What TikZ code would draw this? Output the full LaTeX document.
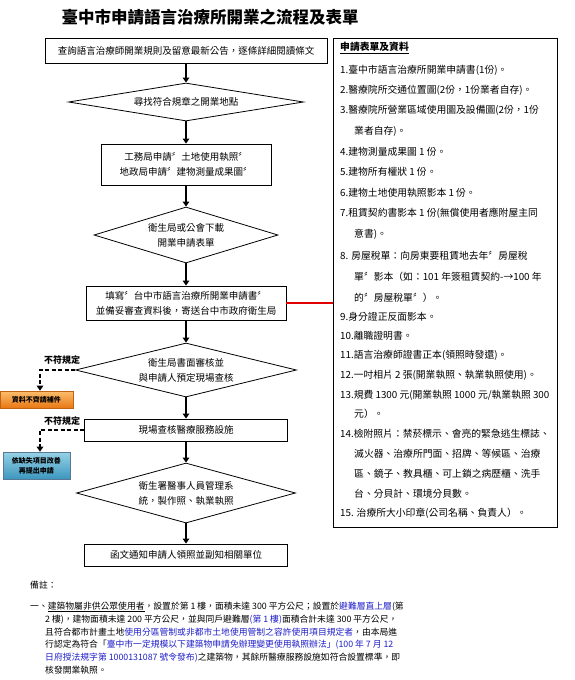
\documentclass[tikz,border=0pt]{standalone}
\usepackage{fontspec}
\setmainfont{Noto Sans CJK TC}
\usetikzlibrary{shapes.geometric,arrows.meta}
\definecolor{noteblue}{RGB}{30,30,200}
\definecolor{linkred}{RGB}{225,0,0}
\definecolor{orgtop}{RGB}{252,190,110}
\definecolor{orgbot}{RGB}{232,120,20}
\definecolor{orgedge}{RGB}{190,100,20}
\definecolor{tealtop}{RGB}{150,210,230}
\definecolor{tealbot}{RGB}{60,150,190}
\definecolor{tealedge}{RGB}{90,120,150}
\newcommand\fflow{\fontsize{9.5}{15}\selectfont}
\newcommand\flist{\fontsize{9.8}{11}\selectfont}
\newcommand\fnote{\fontsize{8.8}{11}\selectfont}
\newcommand\fsmall{\fontsize{7}{10}\selectfont\bfseries}
\begin{document}
\begin{tikzpicture}[x=1pt,y=-1pt,
  flowbox/.style={draw,line width=0.8pt,inner sep=0pt,align=center,font=\fflow},
  dia/.style={draw,diamond,line width=0.8pt,inner sep=0pt},
  diatext/.style={align=center,font=\fflow,inner sep=0pt},
  arr/.style={line width=2pt,-{Triangle[length=5pt,width=6.5pt]}},
  darr/.style={line width=1.6pt,dash pattern=on 4pt off 2.5pt,-{Triangle[length=5pt,width=6.5pt]}},
  listline/.style={anchor=west,font=\flist,inner sep=0pt},
  noteline/.style={anchor=west,font=\fnote,inner sep=0pt},
  reject/.style={font=\fontsize{9}{10}\selectfont\bfseries,inner sep=0pt},
  sidebox/.style={line width=0.6pt,inner sep=0pt,align=center,font=\fsmall},
]
\useasboundingbox (0,0) rectangle (574,680);
\node[font=\fontsize{16.5}{18}\selectfont\bfseries] (title) at (210,17) {臺中市申請語言治療所開業之流程及表單};

% flow
\node[flowbox,minimum width=282pt,minimum height=25pt] (b1) at (186,50.5) {查詢語言治療師開業規則及留意最新公告，逐條詳細閱讀條文};
\node[dia,minimum width=235pt,minimum height=38pt] (d1) at (186,102) {};
\node[diatext] (d1t) at (d1.center) {尋找符合規章之開業地點};
\node[flowbox,minimum width=170pt,minimum height=41pt] (b2) at (186,164.5) {工務局申請〞土地使用執照〞\\地政局申請〞建物測量成果圖〞};
\node[dia,minimum width=184pt,minimum height=56pt] (d2) at (186,235) {};
\node[diatext] (d2t) at (d2.center) {衛生局或公會下載\\開業申請表單};
\node[flowbox,minimum width=200pt,minimum height=34pt] (b3) at (186,303) {填寫〞台中市語言治療所開業申請書〞\\並備妥審查資料後，寄送台中市政府衛生局};
\node[dia,minimum width=221pt,minimum height=54pt] (d3) at (186,370) {};
\node[diatext] (d3t) at (d3.center) {衛生局書面審核並\\與申請人預定現場查核};
\node[flowbox,minimum width=203pt,minimum height=22pt] (b4) at (186,430) {現場查核醫療服務設施};
\node[dia,minimum width=219pt,minimum height=60pt] (d4) at (186,493) {};
\node[diatext] (d4t) at (d4.center) {衛生署醫事人員管理系\\統，製作照、執業執照};
\node[flowbox,minimum width=203pt,minimum height=22pt] (b5) at (186,555) {函文通知申請人領照並副知相關單位};

\draw[arr] (b1.south) -- (d1.north);
\draw[arr] (d1.south) -- (b2.north);
\draw[arr] (b2.south) -- (d2.north);
\draw[arr] (d2.south) -- (b3.north);
\draw[arr] (b3.south) -- (d3.north);
\draw[arr] (d3.south) -- (b4.north);
\draw[arr] (b4.south) -- (d4.north);
\draw[arr] (d4.south) -- (b5.north);

% side branches
\node[sidebox,draw=orgedge,top color=orgtop,bottom color=orgbot,minimum width=73pt,minimum height=17pt] (ob) at (36.5,399.5) {資料不齊請補件};
\node[sidebox,draw=tealedge,top color=tealtop,bottom color=tealbot,minimum width=67pt,minimum height=27pt] (tb) at (36.5,465.5) {依缺失項目改善\\再提出申請};
\coordinate (c1) at (40,370);
\coordinate (c2) at (40,430);
\draw[darr] (d3.west) -- (c1) -- (ob.north -| c1);
\draw[darr] (b4.west) -- (c2) -- (tb.north -| c2);
\node[reject] (r1) at (62,360) {不符規定};
\node[reject] (r2) at (62,421) {不符規定};

% right panel
\node[draw,line width=1pt,minimum width=224pt,minimum height=489pt,anchor=north west,inner sep=0pt] (rp) at (333,38) {};
\draw[linkred,line width=1.8pt] (b3.east) -- (b3.east -| rp.west);

\node[listline,font=\flist\bfseries] (lh) at (340,48) {\underline{申請表單及資料}};
\node[listline] (l1) at (340,70) {1.臺中市語言治療所開業申請書(1份)。};
\node[listline] (l2) at (340,90) {2.醫療院所交通位置圖(2份，1份業者自存)。};
\node[listline] (l3) at (340,110) {3.醫療院所營業區域使用圖及設備圖(2份，1份};
\node[listline] (l3b) at (354,131) {業者自存)。};
\node[listline] (l4) at (340,152) {4.建物測量成果圖 1 份。};
\node[listline] (l5) at (340,172) {5.建物所有權狀 1 份。};
\node[listline] (l6) at (340,193) {6.建物土地使用執照影本 1 份。};
\node[listline] (l7) at (340,213) {7.租賃契約書影本 1 份(無償使用者應附屋主同};
\node[listline] (l7b) at (354,234) {意書)。};
\node[listline] (l8) at (340,256) {8. 房屋稅單：向房東要租賃地去年〞房屋稅};
\node[listline] (l8b) at (354,277) {單〞影本（如：101 年簽租賃契約-→100 年};
\node[listline] (l8c) at (354,298) {的〞房屋稅單〞）。};
\node[listline] (l9) at (340,317) {9.身分證正反面影本。};
\node[listline] (l10) at (340,336) {10.離職證明書。};
\node[listline] (l11) at (340,355) {11.語言治療師證書正本(領照時發還)。};
\node[listline] (l12) at (340,375) {12.一吋相片 2 張(開業執照、執業執照使用)。};
\node[listline] (l13) at (340,395) {13.規費 1300 元(開業執照 1000 元/執業執照 300};
\node[listline] (l13b) at (354,414) {元）。};
\node[listline] (l14) at (340,434) {14.檢附照片：禁菸標示、會亮的緊急逃生標誌、};
\node[listline] (l14b) at (354,454) {滅火器、治療所門面、招牌、等候區、治療};
\node[listline] (l14c) at (354,474) {區、鏡子、教具櫃、可上鎖之病歷櫃、洗手};
\node[listline] (l14d) at (354,494) {台、分貝計、環境分貝數。};
\node[listline] (l15) at (340,513) {15. 治療所大小印章(公司名稱、負責人）。};

% notes
\node[noteline] (nb) at (30,585) {備註：};
\node[noteline] (n1) at (30,607) {一、\underline{建築物屬非供公眾使用者}，設置於第 1 樓，面積未達 300 平方公尺；設置於\textcolor{noteblue}{避難層直上層}(第};
\node[noteline] (n2) at (45,619.5) {2 樓)，建物面積未達 200 平方公尺，並與同戶避難層\textcolor{noteblue}{(第 1 樓)}面積合計未達 300 平方公尺，};
\node[noteline] (n3) at (45,632) {且符合都市計畫土地\textcolor{noteblue}{使用分區管制或非都市土地使用管制之容許使用項目規定者}，由本局進};
\node[noteline] (n4) at (45,645) {行認定為符合「\textcolor{noteblue}{臺中市一定規模以下建築物申請免辦理變更使用執照辦法」(100 年 7 月 12}};
\node[noteline] (n5) at (45,657.5) {\textcolor{noteblue}{日府授法規字第 1000131087 號令發布)}之建築物，其餘所醫療服務設施如符合設置標準，即};
\node[noteline] (n6) at (45,670) {核發開業執照。};
\end{tikzpicture}
\end{document}
